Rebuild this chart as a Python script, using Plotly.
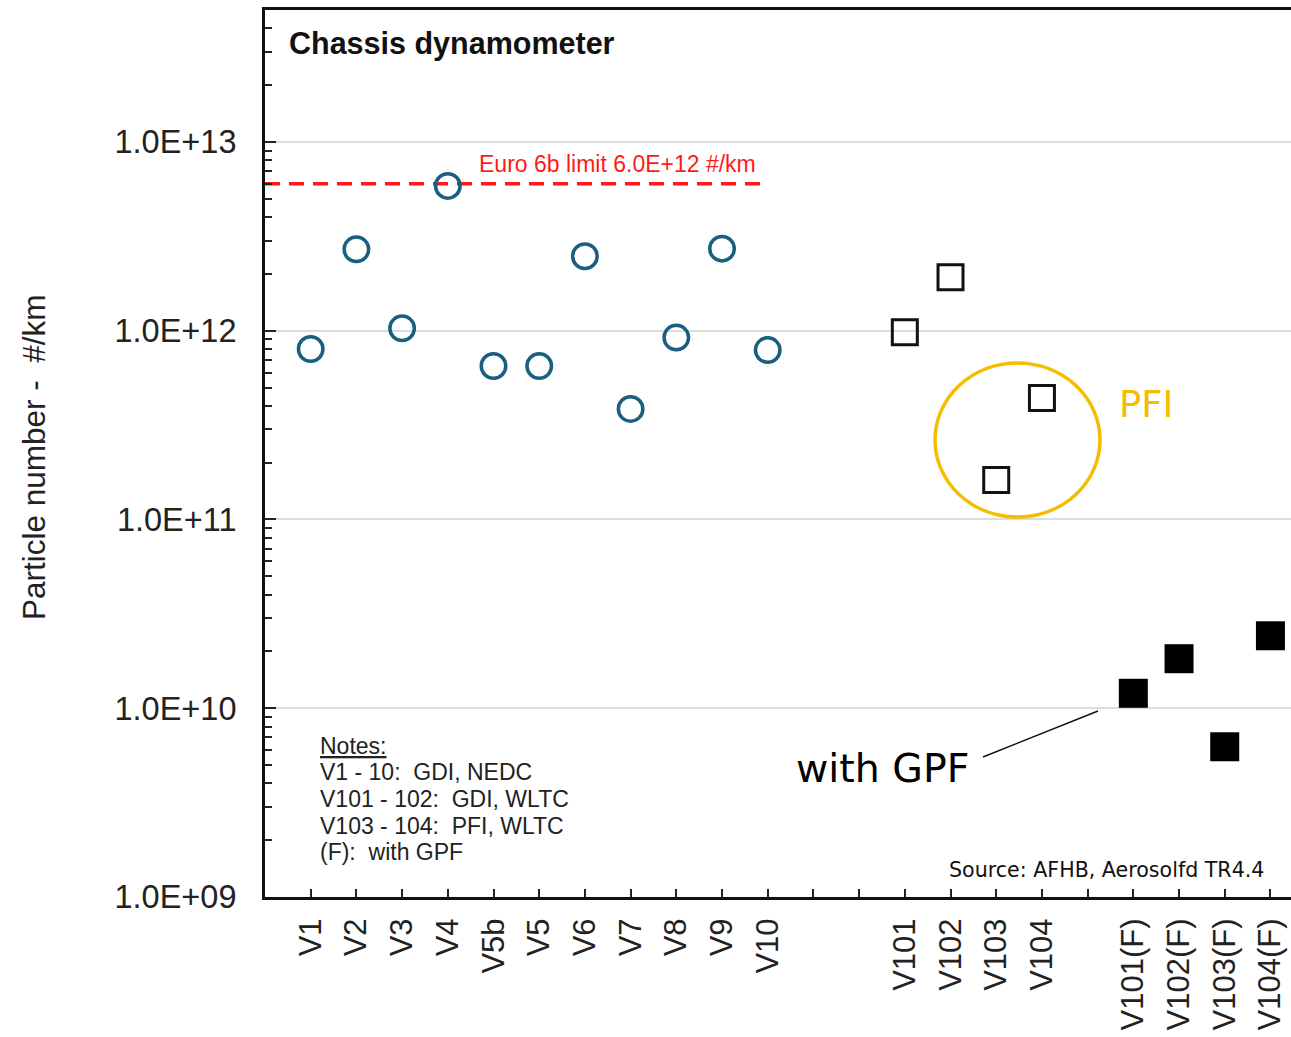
import plotly.graph_objects as go

# Vehicle categories along the x axis (blank slots separate the groups)
categories = ["V1", "V2", "V3", "V4", "V5b", "V5", "V6", "V7", "V8", "V9", "V10",
              "", "",
              "V101", "V102", "V103", "V104",
              "",
              "V101(F)", "V102(F)", "V103(F)", "V104(F)"]

# GDI vehicles, NEDC
gdi_names = ["V1", "V2", "V3", "V4", "V5b", "V5", "V6", "V7", "V8", "V9", "V10"]
gdi_pn = [8.0e11, 2.7e12, 1.03e12, 5.85e12, 6.5e11, 6.5e11, 2.48e12, 3.85e11, 9.2e11, 2.72e12, 7.9e11]

# WLTC vehicles without filter
wltc_names = ["V101", "V102", "V103", "V104"]
wltc_pn = [9.8e11, 1.92e12, 1.62e11, 4.4e11]

# WLTC vehicles with gasoline particulate filter
gpf_names = ["V101(F)", "V102(F)", "V103(F)", "V104(F)"]
gpf_pn = [1.2e10, 1.83e10, 6.25e9, 2.42e10]

# Regulatory limit
limit_value = 6.0e12
limit_end = "V10"

y_tickvals = [1e9, 1e10, 1e11, 1e12, 1e13]
y_ticktext = ["1.0E+09", "1.0E+10", "1.0E+11", "1.0E+12", "1.0E+13"]

pos = {name: i for i, name in enumerate(categories) if name}

W, H = 1291, 1037
ML, MR, MT, MB = 265, 0, 10, 140
PW, PH = W - ML - MR, H - MT - MB


def px(x):
    return (x - ML) / PW


def py(y):
    return (H - MB - y) / PH


fig = go.Figure()

fig.add_trace(go.Scatter(
    x=[-1, pos[limit_end]], y=[limit_value, limit_value], mode="lines",
    line=dict(color="#ff1a1a", width=3.5, dash="15px,9px"),
    showlegend=False, hoverinfo="skip"))

fig.add_trace(go.Scatter(
    x=[pos[n] for n in gdi_names], y=gdi_pn, mode="markers",
    marker=dict(symbol="circle-open", size=24.5, color="#1a5f80", line=dict(width=3.5)),
    showlegend=False))

fig.add_trace(go.Scatter(
    x=[pos[n] for n in wltc_names], y=wltc_pn, mode="markers",
    marker=dict(symbol="square-open", size=25, color="#111111", line=dict(width=3)),
    showlegend=False))

fig.add_trace(go.Scatter(
    x=[pos[n] for n in gpf_names], y=gpf_pn, mode="markers",
    marker=dict(symbol="square", size=29, color="#000000", line=dict(width=0)),
    showlegend=False))

minor_vals = [m * 10 ** e for e in range(9, 14) for m in range(2, 10)]

fig.update_xaxes(
    range=[-1, 21.45], tickmode="array", tickvals=list(range(len(categories))),
    ticktext=categories, tickangle=-90, ticks="inside", ticklen=8, tickwidth=2,
    tickcolor="#222", showline=True, linewidth=3, linecolor="#111", mirror=True,
    showgrid=False, zeroline=False, ticklabelstandoff=6,
    tickfont=dict(family="Liberation Sans, Arial", size=31, color="#222"))

fig.update_yaxes(
    type="log", range=[9, 13.699], tickmode="array", tickvals=y_tickvals,
    ticktext=y_ticktext, ticks="inside", ticklen=11, tickwidth=2, tickcolor="#222",
    minor=dict(tickmode="array", tickvals=minor_vals, ticks="inside", ticklen=7,
               tickwidth=2, tickcolor="#222", showgrid=False),
    showline=True, linewidth=3, linecolor="#111", mirror=False,
    showgrid=True, gridcolor="#dcdcdc", gridwidth=1.5, zeroline=False,
    ticklabelstandoff=19,
    tickfont=dict(family="Liberation Sans, Arial", size=32.5, color="#222"))

anns = []
anns.append(dict(text="Particle number -  #/km", x=px(34), y=py(457), xanchor="center",
                 yanchor="middle", textangle=-90,
                 font=dict(family="Liberation Sans, Arial", size=31.5, color="#222")))
anns.append(dict(text="<b>Chassis dynamometer</b>", x=px(287), y=py(44), xanchor="left",
                 yanchor="middle", font=dict(family="Liberation Sans, Arial", size=30.5, color="#111")))
anns.append(dict(text="Euro 6b limit 6.0E+12 #/km", x=px(617), y=py(164), xanchor="center",
                 yanchor="middle", font=dict(family="Liberation Sans, Arial", size=23, color="#ff1a1a")))

notes = ["Notes:", "V1 - 10:  GDI, NEDC", "V101 - 102:  GDI, WLTC",
         "V103 - 104:  PFI, WLTC", "(F):  with GPF"]
note_y = [746, 772, 799, 826, 852]
for i, (t, yy) in enumerate(zip(notes, note_y)):
    font = dict(family="Liberation Sans, Arial", size=23, color="#222")
    if i == 0:
        font["lineposition"] = "under"
    anns.append(dict(text=t, x=px(318), y=py(yy), xanchor="left", yanchor="middle", font=font))

anns.append(dict(text="with GPF", x=px(794), y=py(768), xanchor="left", yanchor="middle",
                 font=dict(family="DejaVu Sans", size=39.5, color="#000")))
anns.append(dict(text="Source: AFHB, Aerosolfd TR4.4", x=px(1266), y=py(870), xanchor="right",
                 yanchor="middle", font=dict(family="DejaVu Sans", size=20.6, color="#111")))
anns.append(dict(text="PFI", x=px(1117), y=py(404), xanchor="left", yanchor="middle",
                 font=dict(family="DejaVu Sans", size=37, color="#f5bd00")))

for a in anns:
    a.update(xref="paper", yref="paper", showarrow=False)

shapes = [
    dict(type="circle", xref="paper", yref="paper", x0=px(935), x1=px(1100), y0=py(517), y1=py(363),
         line=dict(color="#f5bd00", width=3.5)),
    dict(type="line", xref="paper", yref="paper", x0=px(983), y0=py(757), x1=px(1098), y1=py(711),
         line=dict(color="#111", width=1.5)),
]

fig.update_layout(
    width=W, height=H, margin=dict(l=ML, r=MR, t=MT, b=MB, autoexpand=False),
    paper_bgcolor="white", plot_bgcolor="white",
    annotations=anns, shapes=shapes, showlegend=False)

fig.write_html("out.html")
